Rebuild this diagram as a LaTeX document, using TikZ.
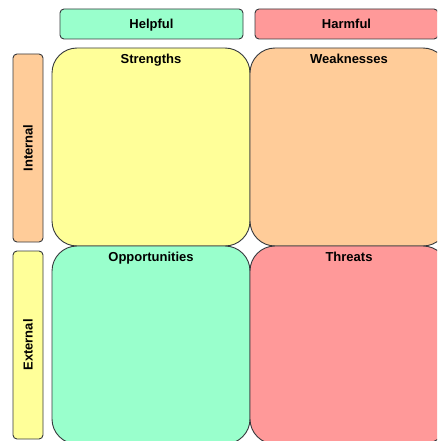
\documentclass[tikz,border=0pt]{standalone}
\usepackage{fontspec}
\setmainfont{Liberation Sans}
\definecolor{mint}{HTML}{99FFCC}
\definecolor{rose}{HTML}{FF9999}
\definecolor{peach}{HTML}{FFCC99}
\definecolor{lemon}{HTML}{FFFF99}
\definecolor{edge}{HTML}{36393D}
\begin{document}
\begin{tikzpicture}[x=1pt,y=-1pt,
  txt/.style={font=\fontsize{13}{15}\selectfont\bfseries,text height=9.3pt,text depth=0pt,inner sep=0pt},
  hdrbox/.style={draw=edge,line width=0.9pt,rounded corners=4pt,minimum width=183pt,minimum height=30pt,txt},
  sidebox/.style={draw=edge,line width=0.9pt,rounded corners=4pt,minimum width=30pt,minimum height=188pt,inner sep=0pt},
  sidetext/.style={rotate=90,txt},
  quad/.style={draw=edge,line width=0.9pt,rounded corners=25pt,minimum width=198pt,minimum height=198pt,inner sep=0pt},
  quadtext/.style={txt,anchor=center}]
\useasboundingbox (0,0) rectangle (437,441);
\clip (0,0) rectangle (437,441);
\fill[white] (0,0) rectangle (437,441);
% header boxes
\node[hdrbox,fill=mint] (helpful) at (151.5,24) {Helpful};
\node[hdrbox,fill=rose] (harmful) at (346.5,24) {Harmful};
% side boxes
\node[sidebox,fill=peach] (internal) at (28,148) {};
\node[sidetext] (internaltxt) at (internal.center) {Internal};
\node[sidebox,fill=lemon] (external) at (28,345) {};
\node[sidetext] (externaltxt) at (external.center) {External};
% quadrants
\node[quad,fill=lemon] (strengths) at (151,147) {};
\node[quad,fill=peach] (weaknesses) at (349,147) {};
\node[quad,fill=mint] (opportunities) at (151,345) {};
\node[quad,fill=rose] (threats) at (349,345) {};
\node[quadtext] (strengthstxt) at (151,59) {Strengths};
\node[quadtext] (weaknessestxt) at (349,59) {Weaknesses};
\node[quadtext] (opportunitiestxt) at (151,257) {Opportunities};
\node[quadtext] (threatstxt) at (349,257) {Threats};
\end{tikzpicture}
\end{document}
